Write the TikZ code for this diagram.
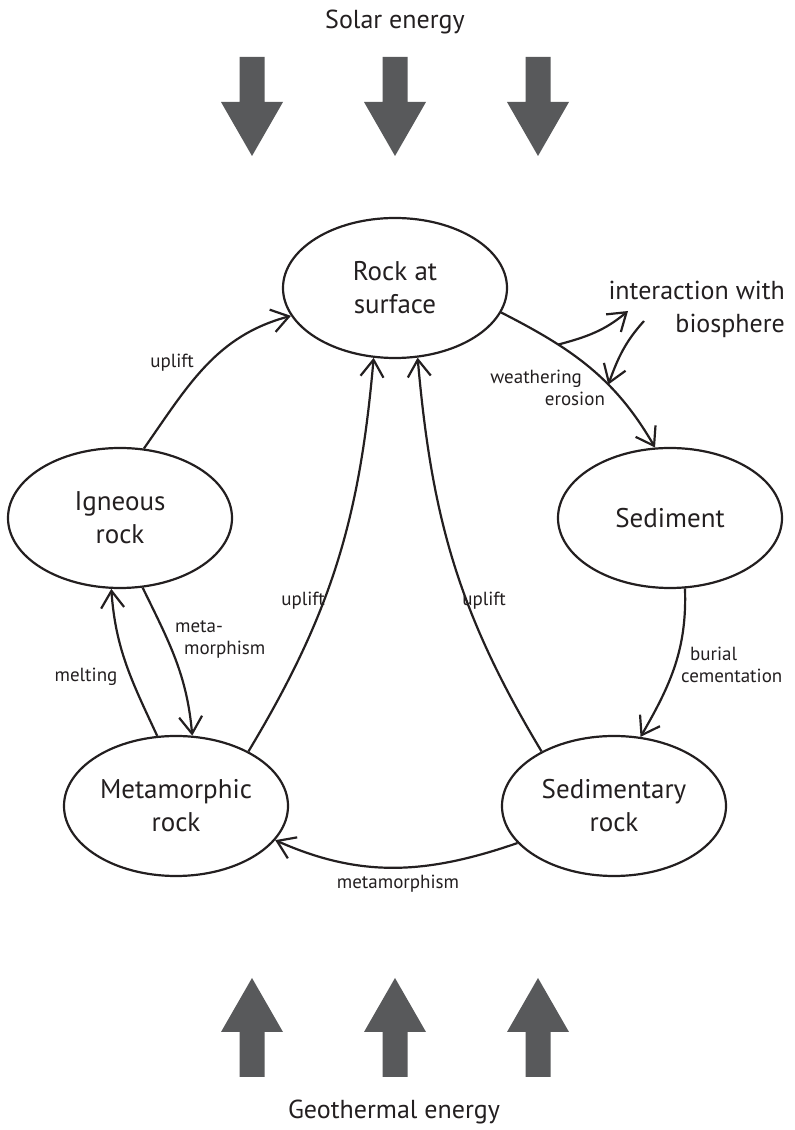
\documentclass[tikz,border=0pt]{standalone}
\usepackage{fontspec}
\setmainfont{PT Sans}
\usetikzlibrary{arrows.meta,shapes.geometric}
\definecolor{ink}{HTML}{231F20}
\definecolor{sungray}{HTML}{58595B}

\begin{document}
\begin{tikzpicture}[x=1pt,y=1pt,line width=2.2pt,color=ink,
    >={Straight Barb[length=17pt,width=23pt]},
    rockbox/.style={ellipse,draw,minimum width=224pt,minimum height=140pt,
      inner sep=0pt,align=center,font=\fontsize{27}{33}\selectfont},
    big/.style={font=\fontsize{26}{33}\selectfont,inner sep=0pt},
    proc/.style={font=\fontsize{19}{22}\selectfont,inner sep=0pt}]
  \useasboundingbox (0,0) rectangle (795,1130);
  \foreach \pos/\name/\txt in
{{(395,842)/surf/Rock at\\surface},{(120,612)/ign/Igneous\\rock},{(670,612)/sed/Sediment},{(176,324)/meta/Metamorphic\\rock},{(614,324)/sedr/Sedimentary\\rock}}
    \node[rockbox] (\name) at \pos {\txt};
  \foreach \x in {252,395,538} {
    \fill[sungray] (\x-12.5,1073) -- (\x+12.5,1073) -- (\x+12.5,1028) -- (\x+31,1028)
      -- (\x,974) -- (\x-31,1028) -- (\x-12.5,1028) -- cycle;
    \fill[sungray] (\x-12.5,53) -- (\x+12.5,53) -- (\x+12.5,98) -- (\x+31,98)
      -- (\x,152) -- (\x-31,98) -- (\x-12.5,98) -- cycle;
  }
  \node[big,anchor=base] (solar) at (395,1101) {Solar energy};
  \node[big,anchor=base] (geo) at (394,12) {Geothermal energy};
  \node[big,align=right,anchor=east] (bio) at (786,821) {interaction with\\biosphere};
  \foreach \src/\a/\tgt/\b/\o/\i in
{ign/71/surf/195/55/195,meta/37/surf/253/59/265,sedr/143/surf/288/121/275,sed/282/sedr/69/-88/60,meta/105/ign/263/115/274,ign/288/meta/77/-64/95,sedr/201/meta/341/199/-24}
    \draw[->] (\src.\a) to[out=\o,in=\i] (\tgt.\b);
  \draw[->] (surf.347) to[out=-27,in=120] coordinate[pos=0.3] (bioout)
    coordinate[pos=0.63] (bioin) (sed.102);
  \coordinate (bioa) at (628,819);
  \coordinate (biob) at (644,809);
  \draw[->] (bioout) to[out=15,in=220] (bioa);
  \draw[->] (biob) to[out=228,in=70] (bioin);
  \node[proc,anchor=base] (upl1) at (172,762) {uplift};
  \node[proc,anchor=base] (upl2) at (303,524) {uplift};
  \node[proc,anchor=base] (upl3) at (484,524) {uplift};
  \node[proc,align=right,anchor=east] (weath) at (606,742) {weathering\hspace*{23pt}\\erosion};
  \node[proc,align=left,anchor=west] (bur) at (680,465) {\hspace*{9pt}burial\\cementation};
  \node[proc,anchor=base] (melt) at (86,448) {melting};
  \node[proc,align=left,anchor=west] (metaup) at (174,491) {meta-\\\hspace*{9pt}morphism};
  \node[proc,anchor=base] (metalo) at (398,241) {metamorphism};
\end{tikzpicture}
\end{document}
